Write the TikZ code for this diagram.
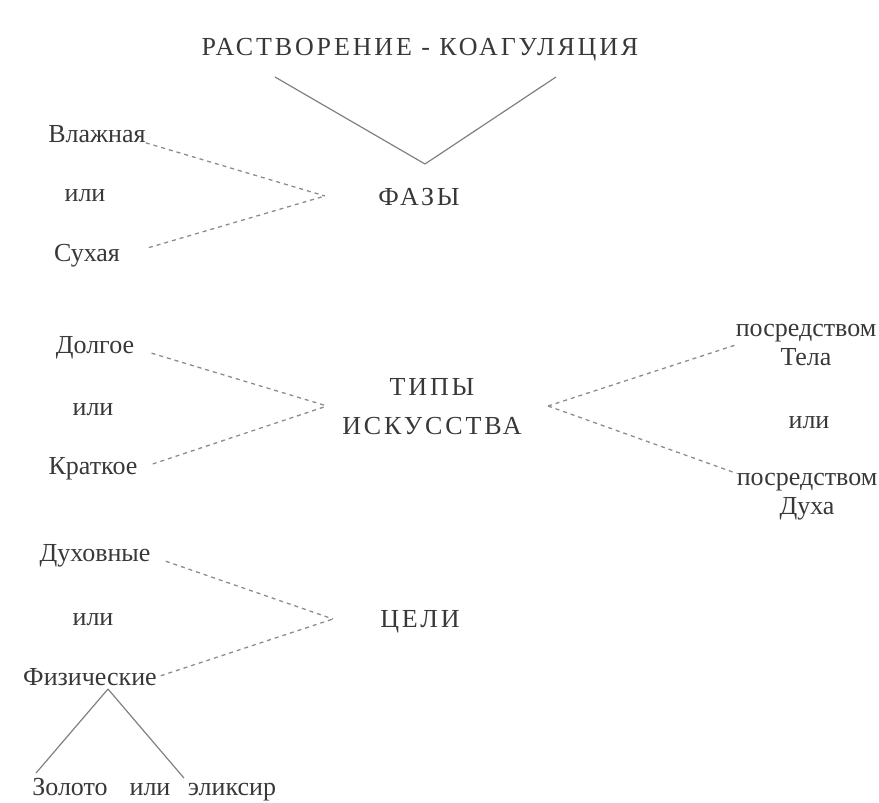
\documentclass[tikz,border=0pt]{standalone}
\usepackage{fontspec}
\setmainfont{Liberation Serif}
\newfontfamily\capsfont[LetterSpace=11]{Liberation Serif}
\usepackage{tikz}

\begin{document}
\begin{tikzpicture}[x=1pt,y=-1pt,
	main node/.style={font=\fontsize{26}{29}\selectfont,text=black!78,inner sep=0pt,align=center},
	caps node/.style={main node,font=\capsfont\fontsize{26}{39}\selectfont},
	dline/.style={draw=black!45,line width=1.3pt,dash pattern=on 4pt off 4pt},
	sline/.style={draw=black!50,line width=1.2pt}]
	\useasboundingbox (0,0) rectangle (879,803);

	\node[caps node] (title) at (420,50) {РАСТВОРЕНИЕ - КОАГУЛЯЦИЯ};
	\node[caps node] (fazy) at (419,197) {ФАЗЫ};
	\node[main node] (vl) at (97,134) {Влажная};
	\node[main node] (ili1) at (85,196) {или};
	\node[main node] (su) at (87,256) {Сухая};

	\node[caps node] (tipy) at (432,407) {ТИПЫ\\ИСКУССТВА};
	\node[main node] (dl) at (95,348) {Долгое};
	\node[main node] (ili2) at (93,410) {или};
	\node[main node] (kr) at (93,469) {Краткое};
	\node[main node] (pt) at (806,345) {посредством\\Тела};
	\node[main node] (ili3) at (809,423) {или};
	\node[main node] (pd) at (807,497) {посредством\\Духа};

	\node[caps node] (celi) at (420,622) {ЦЕЛИ};
	\node[main node] (du) at (95,556) {Духовные};
	\node[main node] (ili4) at (93,620) {или};
	\node[main node] (fz) at (90,677) {Физические};
	\node[main node,anchor=base] (zol) at (70,795) {Золото};
	\node[main node,anchor=base] (ili5) at (150,795) {или};
	\node[main node,anchor=base] (el) at (232,795) {эликсир};

	\coordinate (t1) at (275,77);
	\coordinate (t2) at (556,77);
	\coordinate (fv) at (425,164);
	\coordinate (fj) at (325,196);
	\coordinate (lj) at (327,406);
	\coordinate (rj) at (548,406);
	\coordinate (cj) at (333,619);
	\coordinate (fa) at (108,689);

	\path[sline] (t1) edge (fv)
		(t2) edge (fv);
	\path[dline] (vl.south east) edge (fj)
		(su.east) edge[shorten <=30pt] (fj)
		(dl.east) edge[shorten <=18pt] (lj)
		(kr.east) edge[shorten <=16pt] (lj)
		(rj) edge (pt.west)
		(rj) edge (pd.north west)
		(du.east) edge[shorten <=16pt] (cj)
		(fz.east) edge[shorten <=4pt] (cj);
	\path[sline] (fa) edge[shorten >=6pt] (zol.north west)
		(fa) edge[shorten >=6pt] (el.north west);
\end{tikzpicture}
\end{document}
